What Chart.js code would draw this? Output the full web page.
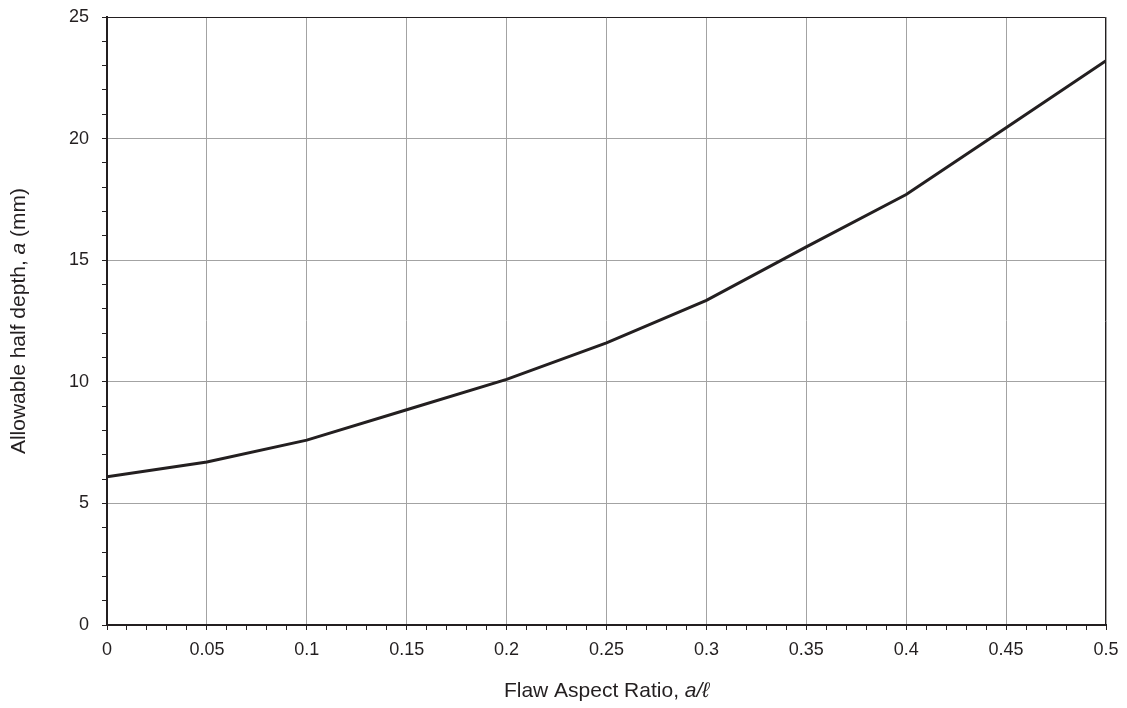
<!DOCTYPE html>
<html>
<head>
<meta charset="utf-8">
<script src="https://cdn.jsdelivr.net/npm/chart.js@4.4.1/dist/chart.umd.min.js"></script>
<style>
  html, body { margin: 0; padding: 0; background: #ffffff; }
  #wrap { width: 1127px; height: 708px; }
</style>
</head>
<body>
<div id="wrap"><canvas id="flawChart" width="1127" height="708"></canvas></div>
<script>
// グラフのデータ（読み取り値）
const aspectRatios = [0, 0.05, 0.1, 0.15, 0.2, 0.25, 0.3, 0.35, 0.4, 0.45, 0.5];
const halfDepths = [6.1, 6.7, 7.6, 8.85, 10.1, 11.6, 13.35, 15.55, 17.7, 20.45, 23.2];
const xTickLabels = ["0", "0.05", "0.1", "0.15", "0.2", "0.25", "0.3", "0.35", "0.4", "0.45", "0.5"];
const yTickLabels = ["0", "5", "10", "15", "20", "25"];

const INK = "#231f20";
const GRID = "#a3a3a3";
const FONT = "'Liberation Sans', Arial, Helvetica, sans-serif";

// x: 0.01刻み、0.05ごとにラベルとグリッド
const isMajorX = (v) => Math.round(v * 100) % 5 === 0;
// y: 1刻み、5ごとにラベルとグリッド
const isMajorY = (v) => Math.round(v) % 5 === 0;

// 軸タイトル（イタリック混在）と上・右の枠線
const framePlugin = {
  id: "frame",
  afterDraw(chart) {
    const { ctx, chartArea } = chart;
    const { left, right, top, bottom } = chartArea;
    ctx.save();
    ctx.strokeStyle = INK;
    ctx.lineWidth = 1;
    ctx.beginPath();
    ctx.moveTo(left, top + 0.5);
    ctx.lineTo(right - 0.5, top + 0.5);
    ctx.lineTo(right - 0.5, bottom);
    ctx.stroke();

    ctx.fillStyle = INK;
    ctx.textBaseline = "middle";
    drawMixed(ctx, [
      { text: "Flaw Aspect Ratio, ", italic: false },
      { text: "a/\u2113", italic: true },
    ], (left + right) / 2, 691, 0);
    drawMixed(ctx, [
      { text: "Allowable half depth, ", italic: false },
      { text: "a", italic: true },
      { text: " (mm)", italic: false },
    ], 19, (top + bottom) / 2, -Math.PI / 2);
    ctx.restore();
  },
};

function drawMixed(ctx, parts, cx, cy, rot) {
  const size = 21;
  const fontOf = (p) => (p.italic ? "italic " : "") + size + "px " + FONT;
  let total = 0;
  parts.forEach((p) => {
    ctx.font = fontOf(p);
    p.w = ctx.measureText(p.text).width;
    total += p.w;
  });
  ctx.save();
  ctx.translate(cx, cy);
  ctx.rotate(rot);
  let x = -total / 2;
  ctx.textAlign = "left";
  parts.forEach((p) => {
    ctx.font = fontOf(p);
    ctx.fillText(p.text, x, 0);
    x += p.w;
  });
  ctx.restore();
}

const ctx = document.getElementById("flawChart").getContext("2d");
new Chart(ctx, {
  type: "line",
  data: {
    datasets: [
      {
        data: aspectRatios.map((x, i) => ({ x: x, y: halfDepths[i] })),
        borderColor: INK,
        borderWidth: 3,
        pointRadius: 0,
        tension: 0,
        fill: false,
      },
    ],
  },
  options: {
    responsive: false,
    animation: false,
    devicePixelRatio: 1,
    layout: { padding: { top: 17, right: 21, left: 0, bottom: 0 } },
    plugins: {
      legend: { display: false },
      tooltip: { enabled: false },
    },
    scales: {
      x: {
        type: "linear",
        min: 0,
        max: 0.5,
        afterFit: (scale) => {
          scale.height = 83;
          scale.paddingLeft = 0;
          scale.paddingRight = 0;
        },
        ticks: {
          stepSize: 0.01,
          maxTicksLimit: 100,
          autoSkip: false,
          maxRotation: 0,
          padding: 9,
          color: INK,
          font: { family: FONT, size: 18 },
          callback: (v) => (isMajorX(v) ? xTickLabels[Math.round(v * 20)] : ""),
        },
        grid: {
          color: (c) => (c.tick && isMajorX(c.tick.value) && c.tick.value > 0 ? GRID : "rgba(0,0,0,0)"),
          tickColor: INK,
          tickLength: 5,
          lineWidth: 1,
        },
        border: { color: INK, width: 2 },
      },
      y: {
        min: 0,
        max: 25,
        afterFit: (scale) => {
          scale.width = 107;
          scale.paddingTop = 0;
          scale.paddingBottom = 0;
        },
        ticks: {
          stepSize: 1,
          maxTicksLimit: 100,
          autoSkip: false,
          padding: 13,
          color: INK,
          font: { family: FONT, size: 18 },
          callback: (v) => (isMajorY(v) ? yTickLabels[Math.round(v / 5)] : ""),
        },
        grid: {
          color: (c) => (c.tick && isMajorY(c.tick.value) && c.tick.value > 0 ? GRID : "rgba(0,0,0,0)"),
          tickColor: INK,
          tickLength: 5,
          lineWidth: 1,
        },
        border: { color: INK, width: 2 },
      },
    },
  },
  plugins: [framePlugin],
});
</script>
</body>
</html>
